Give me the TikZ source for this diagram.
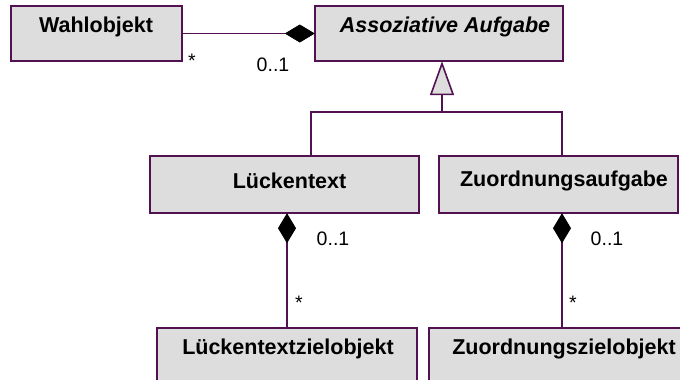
\documentclass[tikz,border=0pt]{standalone}
\usepackage{fontspec}
\setmainfont{Liberation Sans}
\usetikzlibrary{arrows.meta}
\definecolor{umlborder}{RGB}{82,18,82}
\definecolor{umlfill}{RGB}{221,221,221}
\tikzset{
  classbox/.style={draw=umlborder, fill=umlfill, line width=1.6pt, inner sep=0pt},
  classname/.style={inner sep=0pt, font=\fontsize{21.5}{25}\selectfont\bfseries},
  mult/.style={inner sep=0pt, font=\fontsize{19.5}{23}\selectfont},
  assoc/.style={draw=umlborder, line width=1.6pt},
  compos/.style={assoc, -{Diamond[length=30pt, width=18pt, fill=black, line width=0.8pt, color=black]}},
  general/.style={assoc, -{Triangle[open, length=34pt, width=24pt, fill=umlfill, line width=1.6pt]}}
}
\begin{document}
\begin{tikzpicture}[x=1pt, y=-1pt]
\useasboundingbox (0,0) rectangle (680,380);
\clip (0,0) rectangle (680,380);

% class boxes
\path[classbox] (11,6) rectangle (182,61);
\node[classbox, draw=none, fill=none, minimum width=171pt, minimum height=55pt] (wahl) at (96.5,33.5) {};
\path[classbox] (315,6) rectangle (563,61);
\node[minimum width=248pt, minimum height=55pt, inner sep=0pt] (assoz) at (439,33.5) {};
\path[classbox] (150,156) rectangle (419,213);
\node[minimum width=269pt, minimum height=57pt, inner sep=0pt] (lueck) at (284.5,184.5) {};
\path[classbox] (439,156) rectangle (678,213);
\node[minimum width=239pt, minimum height=57pt, inner sep=0pt] (zuord) at (558.5,184.5) {};
\path[classbox] (157,328) rectangle (417,400);
\node[minimum width=260pt, minimum height=72pt, inner sep=0pt] (lzo) at (287,364) {};
\path[classbox] (429,328) rectangle (695,400);
\node[minimum width=266pt, minimum height=72pt, inner sep=0pt] (zzo) at (562,364) {};

% class names
\node[classname] (twahl) at (96,27) {Wahlobjekt};
\node[classname, font=\fontsize{21.5}{25}\selectfont\bfseries\itshape] (tassoz) at (445,27) {Assoziative Aufgabe};
\node[classname] (tlueck) at (289.5,181) {Lückentext};
\node[classname] (tzuord) at (564,181) {Zuordnungsaufgabe};
\node[classname] (tlzo) at (288,349) {Lückentextzielobjekt};
\node[classname] (tzzo) at (564,349) {Zuordnungszielobjekt};

% aggregation Wahlobjekt -> Assoziative Aufgabe
\draw[compos] (wahl.east) -- (assoz.west);
\node[mult] (m1) at (192,61) {*};
\node[mult] (m2) at (273,65) {0..1};

% generalization
\coordinate (gl) at (311,112);
\coordinate (gr) at (562,112);
\coordinate (gm) at (442,112);
\draw[assoc] (lueck.north -| gl) -- (gl) -- (gr) -- (zuord.north -| gr);
\draw[general] (gm) -- (assoz.south -| gm);

% compositions to the target objects
\draw[compos] (lzo.north) -- (lueck.south -| lzo.north);
\node[mult] (m3) at (333,239) {0..1};
\node[mult] (m4) at (299,303) {*};
\draw[compos] (zzo.north) -- (zuord.south -| zzo.north);
\node[mult] (m5) at (607,239) {0..1};
\node[mult] (m6) at (573,303) {*};
\end{tikzpicture}
\end{document}
